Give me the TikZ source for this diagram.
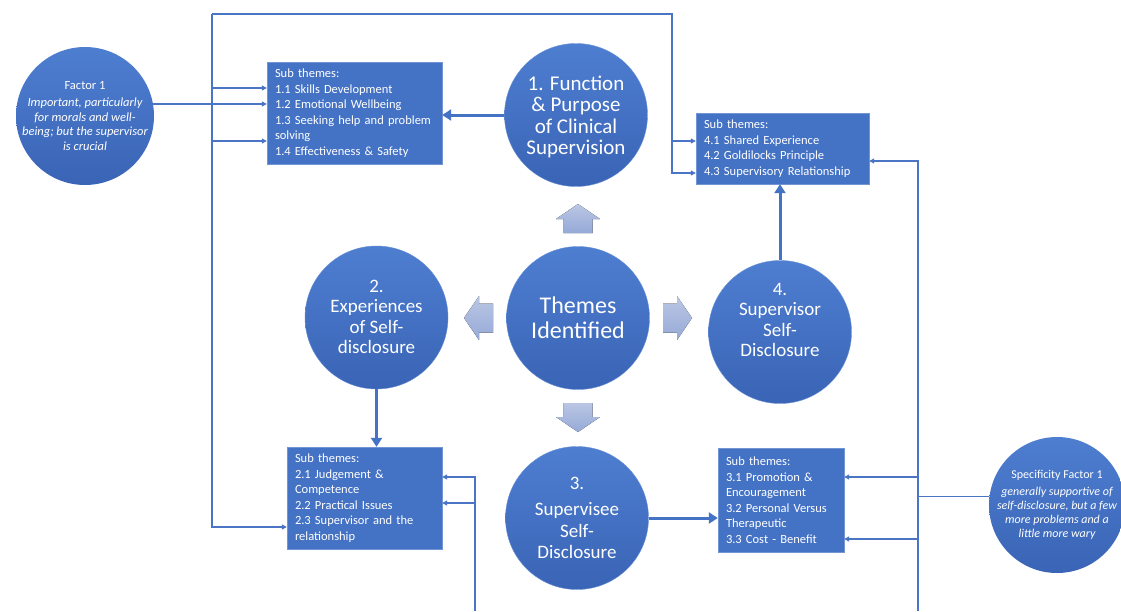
\documentclass[tikz,border=0pt]{standalone}
\usepackage{fontspec}
\setmainfont{Carlito}
\usetikzlibrary{arrows.meta,calc}

\definecolor{themeblue}{HTML}{4472C4}
\definecolor{circtop}{HTML}{4E7ED0}
\definecolor{circbot}{HTML}{3A64B6}
\definecolor{linkblue}{HTML}{4A74C4}
\definecolor{palelight}{HTML}{BAC6E3}
\definecolor{paledark}{HTML}{96AAD8}

\begin{document}
\begin{tikzpicture}[x=1pt,y=-1pt,
    theme/.style={circle,minimum size=143pt,inner sep=0pt,top color=circtop,bottom color=circbot,
      draw=circtop!85!white,text=white,align=center},
    factor/.style={circle,minimum size=138pt,inner sep=-8pt,top color=circtop,bottom color=circbot,
      text=white,align=center,font=\fontsize{12.5}{14.5}\selectfont},
    subbox/.style={rectangle,fill=themeblue,draw=themeblue!75!white,text=white,align=left,
      inner xsep=8pt,inner ysep=0pt,font=\fontsize{12.5}{15.5}\selectfont},
    wire/.style={draw=linkblue,line width=1.1pt},
    link/.style={wire,-{Triangle[length=5pt,width=5pt]}},
    bold link/.style={draw=themeblue,line width=3pt,-{Triangle[length=9pt,width=11pt]}},
    blockarrow/.style={top color=palelight,bottom color=paledark}]
    \useasboundingbox (0,0) rectangle (1121,611);
    \fill[white] (0,0) rectangle (1121,611);

    % theme circles
    \node[theme,font=\fontsize{24}{25}\selectfont] (themes) at (578,318) {Themes\\Identified};
    \node[theme,font=\fontsize{21}{21.5}\selectfont,text depth=0pt] (func) at (576,115) {1. Function\\\& Purpose\\of Clinical\\Supervision};
    \node[theme,font=\fontsize{19}{20.5}\selectfont,text depth=1pt] (exper) at (376.5,317.5) {2.\\Experiences\\of Self-\\disclosure};
    \node[theme,font=\fontsize{19}{21.5}\selectfont] (supee) at (577,518) {3.\\[5pt]Supervisee\\Self-\\Disclosure};
    \node[theme,font=\fontsize{19}{20.5}\selectfont,text depth=24pt] (supor) at (780,332) {4.\\Supervisor\\Self-\\Disclosure};

    % factor circles
    \node[factor] (fac1) at (85,116) {Factor 1\\[3pt]\itshape Important, particularly\\\itshape for morals and well-\\\itshape being; but the supervisor\\\itshape is crucial};
    \node[factor,minimum size=136pt,font=\fontsize{12}{14}\selectfont] (spec) at (1057,505) {Specificity Factor 1\\[3pt]\itshape generally supportive of\\\itshape self-disclosure, but a few\\\itshape more problems and a\\\itshape little more wary};

    % sub theme boxes
    \node[subbox,minimum width=175pt,minimum height=102pt,text width=159pt] (box1) at (354.5,113)
      {Sub themes:\\1.1 Skills Development\\1.2 Emotional Wellbeing\\1.3 Seeking help and problem\\solving\\1.4 Effectiveness \& Safety};
    \node[subbox,minimum width=155pt,minimum height=102pt,text width=139pt] (box2) at (364.5,498)
      {Sub themes:\\2.1 Judgement \&\\Competence\\2.2 Practical Issues\\2.3 Supervisor and the\\relationship};
    \node[subbox,minimum width=126pt,minimum height=104pt,text width=110pt] (box3) at (781,500)
      {Sub themes:\\3.1 Promotion \&\\Encouragement\\3.2 Personal Versus\\Therapeutic\\3.3 Cost - Benefit};
    \node[subbox,minimum width=173pt,minimum height=71pt,text width=157pt] (box4) at (782.5,148.5)
      {Sub themes:\\4.1 Shared Experience\\4.2 Goldilocks Principle\\4.3 Supervisory Relationship};

    % pale block arrows round the centre
    \foreach \ang in {0,90,180,270}
      \fill[blockarrow,shift={(themes.center)},rotate=\ang]
        (85,-14.5) -- (99,-14.5) -- (99,-22) -- (114,0) -- (99,22) -- (99,14.5) -- (85,14.5) -- cycle;

    % theme to sub themes
    \draw[bold link] (func.west) -- (func.west -| box1.east);
    \draw[bold link] (exper.south) -- (exper.south |- box2.north);
    \draw[bold link] (supee.east) -- (supee.east -| box3.west);
    \draw[bold link] (supor.north) -- (supor.north |- box4.south);

    % factor 1 feeds
    \coordinate (trunkL) at (212,14);
    \coordinate (trunkR) at (672,14);
    \coordinate (in1a) at ($(box1.west)+(0,-25)$);
    \coordinate (in1b) at ($(box1.west)+(0,28)$);
    \coordinate (in2c) at ($(box2.west)+(0,29)$);
    \coordinate (in4a) at ($(box4.west)+(0,-7.5)$);
    \coordinate (in4b) at ($(box4.west)+(0,24.5)$);
    \draw[link] (fac1.10) -- (fac1.10 -| box1.west);
    \draw[link] (trunkL |- in1a) -- (in1a);
    \draw[link] (trunkL |- in1b) -- (in1b);
    \draw[link] (trunkL) |- (in2c);
    \draw[link] (trunkL) -- (trunkR) |- (in4b);
    \draw[link] (trunkR |- in4a) -- (in4a);

    % specificity factor feeds
    \coordinate (trunkS) at (918,611);
    \coordinate (in4c) at ($(box4.east)+(0,12.5)$);
    \coordinate (in3a) at ($(box3.east)+(0,-23)$);
    \coordinate (in3b) at ($(box3.east)+(0,39)$);
    \draw[wire] (spec.173) -- (spec.173 -| trunkS);
    \draw[link] (trunkS) |- (in4c);
    \draw[link] (trunkS |- in3a) -- (in3a);
    \draw[link] (trunkS |- in3b) -- (in3b);

    % feed from below
    \coordinate (trunkM) at (475,611);
    \coordinate (in2a) at ($(box2.east)+(0,-21)$);
    \coordinate (in2b) at ($(box2.east)+(0,5)$);
    \draw[link] (trunkM) |- (in2a);
    \draw[link] (trunkM |- in2b) -- (in2b);
  \end{tikzpicture}
\end{document}
